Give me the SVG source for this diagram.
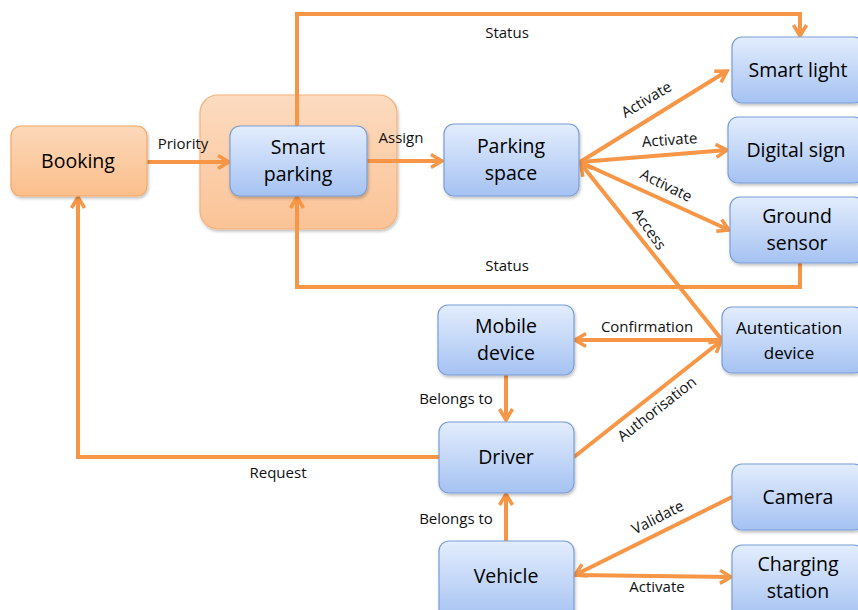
<svg xmlns="http://www.w3.org/2000/svg" width="858" height="610" viewBox="0 0 858 610">
  <defs>
    <linearGradient id="blueFill" x1="0" y1="0" x2="0" y2="1">
      <stop offset="0" stop-color="#e3edfd"/>
      <stop offset="1" stop-color="#a5c2f2"/>
    </linearGradient>
    <linearGradient id="orangeFill" x1="0" y1="0" x2="0" y2="1">
      <stop offset="0" stop-color="#fcd8ba"/>
      <stop offset="1" stop-color="#fbbf8c"/>
    </linearGradient>
    <linearGradient id="groupFill" x1="0" y1="0" x2="0" y2="1">
      <stop offset="0" stop-color="#fcdbc0"/>
      <stop offset="1" stop-color="#fbc396"/>
    </linearGradient>
    <filter id="shadow" x="-10%" y="-10%" width="130%" height="140%">
      <feDropShadow dx="1" dy="2" stdDeviation="1.5" flood-color="#000" flood-opacity="0.25"/>
    </filter>
    <marker id="arrow" viewBox="0 0 16 16" markerWidth="16" markerHeight="16" refX="13" refY="8" orient="auto" markerUnits="userSpaceOnUse">
      <path d="M2,1.5 L13,8 L2,14.5" fill="none" stroke="#f79646" stroke-width="3.5" stroke-linejoin="miter"/>
    </marker>
  </defs>
  <style>
    .blue { fill: url(#blueFill); stroke: #7a9ed8; stroke-width: 1.2; filter: url(#shadow); }
    .orange { fill: url(#orangeFill); stroke: #f6a865; stroke-width: 1.2; filter: url(#shadow); }
    .grp { fill: url(#groupFill); stroke: #f6b27a; stroke-width: 1.2; filter: url(#shadow); }
    .node { font-family: "Open Sans", "Liberation Sans", sans-serif; font-size: 19.5px; fill: #000; text-anchor: middle; }
    .small { font-size: 17px; }
    .lbl { font-family: "Open Sans", "Liberation Sans", sans-serif; font-size: 15px; fill: #111; text-anchor: middle; }
    .edge { fill: none; stroke: #f79646; stroke-width: 4; stroke-linejoin: miter; }
    .arr { marker-end: url(#arrow); }
  </style>

  <!-- grouping box behind Smart parking -->
  <g id="smart-parking-group">
    <rect class="grp" x="200" y="95" width="197" height="134" rx="18"/>
  </g>

  <!-- connectors -->
  <g id="connectors">
    <line class="edge arr" x1="147" y1="162" x2="229" y2="162"/>
    <line class="edge arr" x1="367" y1="161" x2="442" y2="161"/>
    <polyline class="edge arr" points="297,126 297,14 800,14 800,36"/>
    <polyline class="edge arr" points="800,263 800,287 297,287 297,197"/>
    <line class="edge arr" x1="580" y1="162" x2="727" y2="71"/>
    <line class="edge arr" x1="580" y1="162" x2="727" y2="150"/>
    <line class="edge arr" x1="580" y1="162" x2="729" y2="230"/>
    <line class="edge arr" x1="722" y1="340" x2="581" y2="164"/>
    <line class="edge arr" x1="722" y1="340" x2="575" y2="340"/>
    <line class="edge arr" x1="506" y1="375" x2="506" y2="420"/>
    <line class="edge arr" x1="574" y1="457" x2="721" y2="341"/>
    <polyline class="edge arr" points="439,457 78,457 78,197"/>
    <line class="edge arr" x1="506" y1="541" x2="506" y2="494"/>
    <line class="edge arr" x1="732" y1="497" x2="575" y2="575"/>
    <line class="edge arr" x1="574" y1="575" x2="731" y2="577"/>
  </g>

  <!-- connector labels -->
  <g id="edge-labels">
    <text class="lbl" x="183" y="149">Priority</text>
    <text class="lbl" x="401" y="143">Assign</text>
    <text class="lbl" x="507" y="38">Status</text>
    <text class="lbl" x="507" y="271">Status</text>
    <text class="lbl" transform="translate(649,104) rotate(-31)">Activate</text>
    <text class="lbl" transform="translate(670,145) rotate(-4)">Activate</text>
    <text class="lbl" transform="translate(664,190) rotate(26)">Activate</text>
    <text class="lbl" transform="translate(645,232) rotate(55)">Access</text>
    <text class="lbl" x="647" y="332">Confirmation</text>
    <text class="lbl" x="456" y="404">Belongs to</text>
    <text class="lbl" transform="translate(660,413) rotate(-38)">Authorisation</text>
    <text class="lbl" x="278" y="478">Request</text>
    <text class="lbl" x="456" y="524">Belongs to</text>
    <text class="lbl" transform="translate(660,522) rotate(-27)">Validate</text>
    <text class="lbl" x="657" y="592">Activate</text>
  </g>

  <!-- nodes -->
  <g id="booking">
    <rect class="orange" x="11" y="126" width="136" height="70" rx="10"/>
    <text class="node" x="78" y="168">Booking</text>
  </g>
  <g id="smart-parking">
    <rect class="blue" x="230" y="126" width="137" height="70" rx="10"/>
    <text class="node" x="298" y="154">Smart</text>
    <text class="node" x="298" y="181">parking</text>
  </g>
  <g id="parking-space">
    <rect class="blue" x="444" y="124" width="135" height="72" rx="10"/>
    <text class="node" x="511" y="153">Parking</text>
    <text class="node" x="511" y="180">space</text>
  </g>
  <g id="smart-light">
    <rect class="blue" x="732" y="37" width="132" height="66" rx="10"/>
    <text class="node" x="798" y="77">Smart light</text>
  </g>
  <g id="digital-sign">
    <rect class="blue" x="728" y="117" width="136" height="66" rx="10"/>
    <text class="node" x="796" y="157">Digital sign</text>
  </g>
  <g id="ground-sensor">
    <rect class="blue" x="730" y="197" width="134" height="66" rx="10"/>
    <text class="node" x="797" y="223">Ground</text>
    <text class="node" x="797" y="250">sensor</text>
  </g>
  <g id="mobile-device">
    <rect class="blue" x="438" y="305" width="136" height="70" rx="10"/>
    <text class="node" x="506" y="333">Mobile</text>
    <text class="node" x="506" y="360">device</text>
  </g>
  <g id="authentication-device">
    <rect class="blue" x="722" y="307" width="142" height="66" rx="10"/>
    <text class="node small" x="789" y="334">Autentication</text>
    <text class="node small" x="789" y="359">device</text>
  </g>
  <g id="driver">
    <rect class="blue" x="439" y="422" width="135" height="71" rx="10"/>
    <text class="node" x="506" y="464">Driver</text>
  </g>
  <g id="camera">
    <rect class="blue" x="732" y="464" width="132" height="66" rx="10"/>
    <text class="node" x="798" y="504">Camera</text>
  </g>
  <g id="charging-station">
    <rect class="blue" x="732" y="545" width="132" height="75" rx="10"/>
    <text class="node" x="798" y="571">Charging</text>
    <text class="node" x="798" y="598">station</text>
  </g>
  <g id="vehicle">
    <rect class="blue" x="439" y="541" width="135" height="79" rx="10"/>
    <text class="node" x="506" y="583">Vehicle</text>
  </g>
</svg>
